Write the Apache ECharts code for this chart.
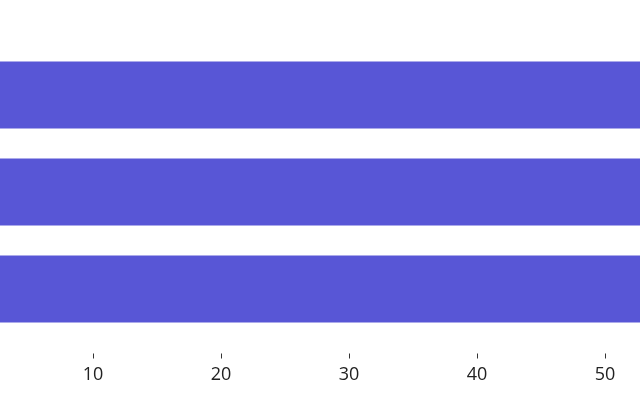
<!DOCTYPE html>
<html>
<head>
<meta charset="utf-8">
<script src="https://cdn.jsdelivr.net/npm/echarts@6/dist/echarts.min.js"></script>
<style>html,body{margin:0;padding:0;background:#fff}#c{width:640px;height:400px}</style>
</head>
<body>
<div id="c"></div>
<script>
var categories = ['A', 'B', 'C'];
var values = [60, 60, 60];
var tickValues = [10, 20, 30, 40, 50];
var axisMin = 35 / 12.8;
var axisMax = 675 / 12.8;

var chart = echarts.init(document.getElementById('c'), null, {renderer: 'canvas'});
chart.setOption({
  animation: false,
  grid: {left: 0, right: 0, top: 46.5, bottom: 62.5, containLabel: false},
  xAxis: {
    type: 'value', min: axisMin, max: axisMax,
    offset: 16,
    axisLine: {show: false},
    axisTick: {show: true, length: 5, customValues: tickValues, lineStyle: {color: '#333'}},
    axisLabel: {color: '#222', fontSize: 18, fontFamily: 'Open Sans', margin: 12, customValues: tickValues},
    splitLine: {show: false}
  },
  yAxis: {
    type: 'category', data: categories, inverse: true,
    axisLine: {show: false}, axisTick: {show: false}, axisLabel: {show: false}
  },
  series: [{
    type: 'bar', data: values, barCategoryGap: '31%',
    itemStyle: {color: '#5856D6'}
  }]
});
</script>
</body>
</html>
